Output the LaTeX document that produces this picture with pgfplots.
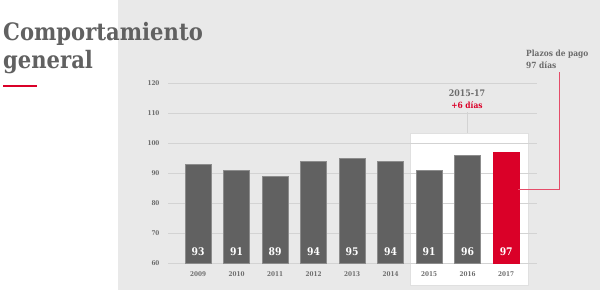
\documentclass[border=0pt]{standalone}
\usepackage{pgfplots}
\pgfplotsset{compat=1.18}
\usepackage{fontspec}
\setmainfont{DejaVu Serif}[FakeStretch=0.88, BoldFont={DejaVu Serif Bold}, BoldFeatures={FakeStretch=0.88}]
\definecolor{bg}{HTML}{E9E9E9}
\definecolor{bargray}{HTML}{616161}
\definecolor{txtgray}{HTML}{6B6B6B}
\definecolor{titlegray}{HTML}{616161}
\definecolor{myred}{HTML}{DA0028}
\definecolor{gridc}{HTML}{D3D3D3}
\begin{document}
\begin{tikzpicture}[x=1pt,y=1pt]
\fill[white] (0,0) rectangle (600,290);
\fill[bg] (118,0) rectangle (600,290);
\fill[white, draw=gridc!70, line width=0.5] (410,5) rectangle (528,157);
\node[anchor=base west, font=\fontsize{24}{28}\selectfont\bfseries, text=titlegray, inner sep=0] at (3,250) {Comportamiento};
\node[anchor=base west, font=\fontsize{24}{28}\selectfont\bfseries, text=titlegray, inner sep=0] at (3,222) {general};
\draw[myred, line width=2] (3,204) -- (37,204);
\begin{axis}[
  scale only axis, width=369pt, height=180pt,
  at={(168pt,26.7pt)}, anchor=south west,
  xmin=-0.78, xmax=8.8, ymin=60, ymax=120,
  axis line style={draw=none}, tick style={draw=none},
  ytick={60,70,...,120},
  xtick={0,...,8},
  xticklabels={2009,2010,2011,2012,2013,2014,2015,2016,2017},
  ymajorgrids, grid style={gridc, line width=0.6},
  yticklabel style={font=\fontsize{6.5}{7}\selectfont\bfseries, text=txtgray, xshift=-5pt},
  xticklabel style={font=\fontsize{6.5}{7}\selectfont\bfseries, text=txtgray, yshift=-5pt},
  /pgf/number format/assume math mode=true,
]
\addplot[ybar, bar width=26pt, bar shift=0pt, fill=bargray, draw=gray!90, line width=0.6]
  coordinates {(0,93) (1,91) (2,89) (3,94) (4,95) (5,94) (6,91) (7,96)};
\addplot[ybar, bar width=26pt, bar shift=0pt, fill=myred, draw=myred, line width=0.6]
  coordinates {(8,97)};
\addplot[only marks, mark=none, nodes near coords, point meta=explicit symbolic,
  nodes near coords style={font=\fontsize{10.5}{10}\selectfont\bfseries, text=white, anchor=center, inner sep=0}]
  table[x=x, y=y, meta=lab, row sep=\\] {
  x y lab \\
  0 63.8 93 \\
  1 63.8 91 \\
  2 63.8 89 \\
  3 63.8 94 \\
  4 63.8 95 \\
  5 63.8 94 \\
  6 63.8 91 \\
  7 63.8 96 \\
  8 63.8 97 \\
};
\end{axis}
\draw[gridc, line width=0.6] (467,178) -- (467,157);
\node[font=\fontsize{9}{9}\selectfont\bfseries, text=txtgray, inner sep=0] at (467,197) {2015-17};
\node[font=\fontsize{8.5}{9}\selectfont\bfseries, text=myred, inner sep=0] at (467,185) {+6 días};
\node[anchor=west, font=\fontsize{8.5}{9}\selectfont\bfseries, text=txtgray, inner sep=0] at (526,236) {Plazos de pago};
\node[anchor=west, font=\fontsize{8.5}{9}\selectfont\bfseries, text=txtgray, inner sep=0] at (526,225) {97 días};
\draw[myred!70, line width=0.9] (559,218) -- (559,100.7) -- (518.3,100.7);
\end{tikzpicture}
\end{document}
